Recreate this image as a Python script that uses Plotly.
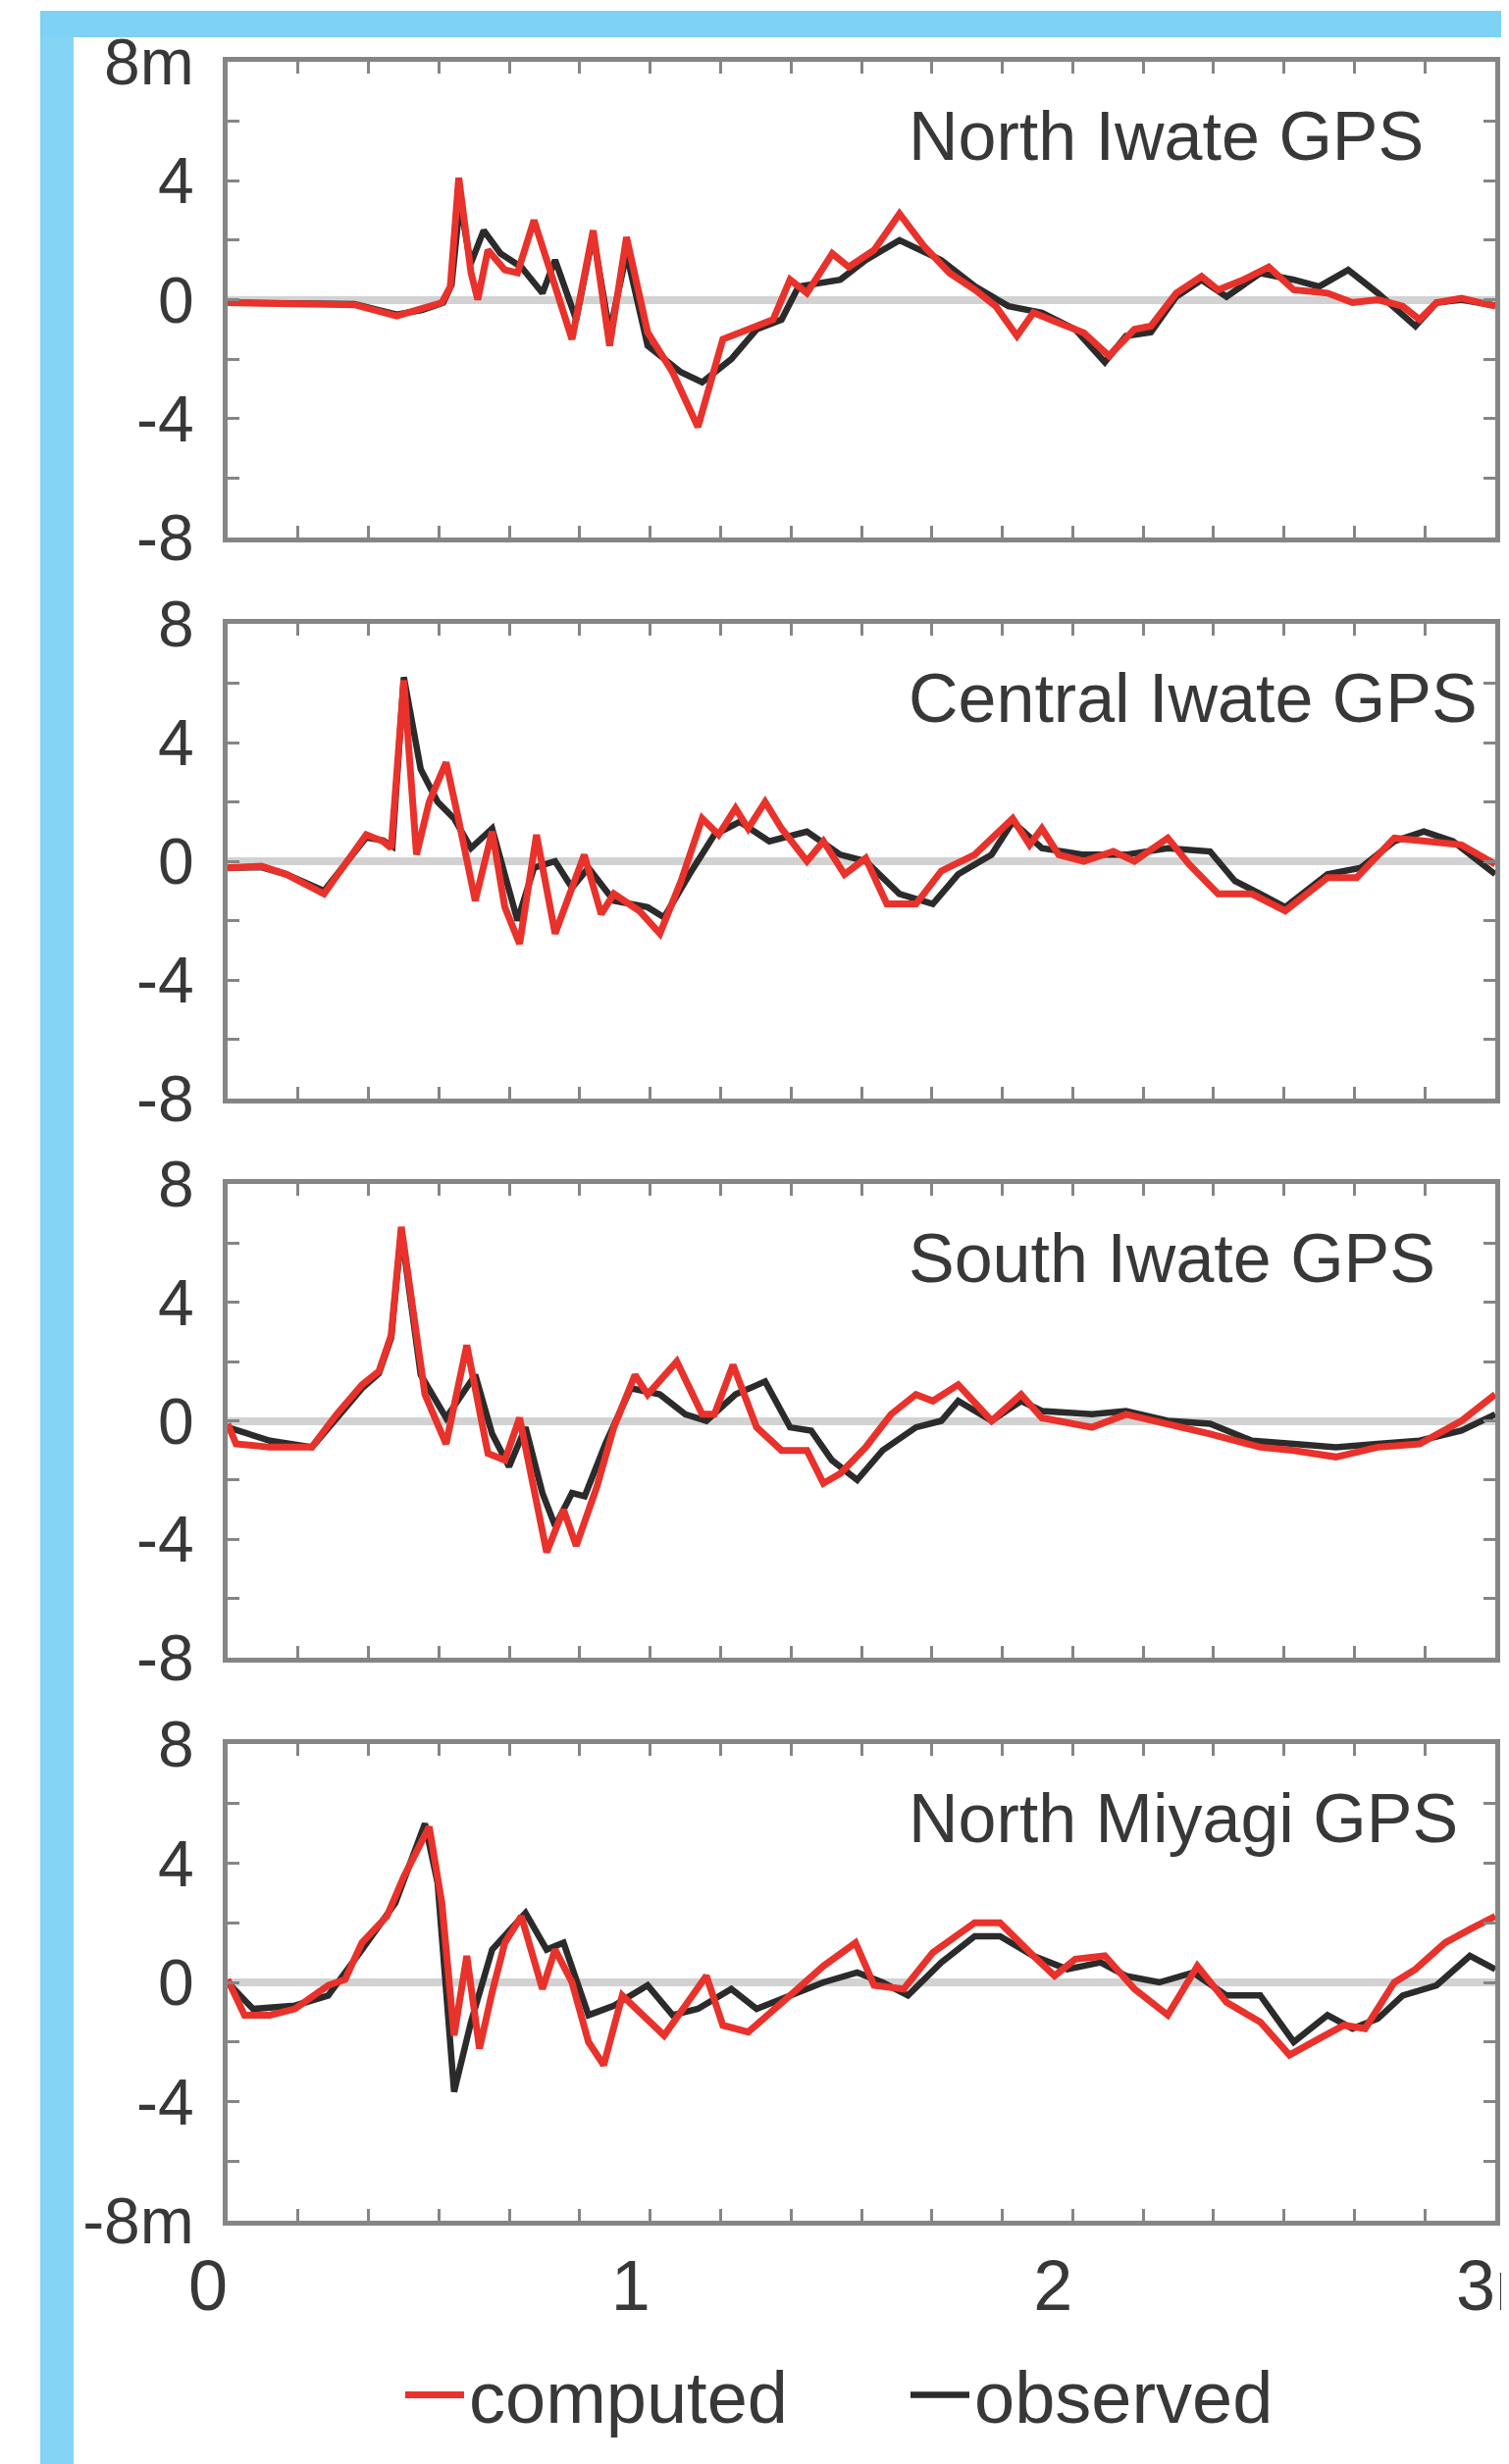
import plotly.graph_objects as go

# ---------------- data (time in minutes, displacement in m) ----------------
panel_titles = ["North Iwate GPS", "Central Iwate GPS", "South Iwate GPS", "North Miyagi GPS"]

north_iwate_computed = [
    (0.0, -0.1), (0.30, -0.17), (0.40, -0.55), (0.457, -0.33), (0.507, -0.1), (0.527, 0.44),
    (0.547, 4.1), (0.576, 0.9), (0.592, 0.0), (0.616, 1.67), (0.656, 1.0), (0.686, 0.9),
    (0.725, 2.67), (0.765, 0.9), (0.815, -1.33), (0.865, 2.33), (0.904, -1.55), (0.944, 2.1),
    (0.994, -1.1), (1.053, -2.44), (1.113, -4.28), (1.172, -1.33), (1.232, -1.0), (1.291, -0.67),
    (1.331, 0.67), (1.371, 0.22), (1.431, 1.55), (1.47, 1.1), (1.53, 1.67), (1.59, 2.89),
    (1.649, 1.78), (1.709, 0.89), (1.769, 0.33), (1.818, -0.22), (1.868, -1.22), (1.907, -0.44),
    (1.967, -0.78), (2.026, -1.11), (2.086, -1.89), (2.146, -1.0), (2.185, -0.89), (2.245, 0.22),
    (2.305, 0.78), (2.344, 0.33), (2.404, 0.67), (2.464, 1.1), (2.523, 0.33), (2.603, 0.22),
    (2.662, -0.1), (2.722, 0.0), (2.781, -0.22), (2.821, -0.67), (2.861, -0.1), (2.92, 0.05),
    (3.0, -0.22),
]
north_iwate_observed = [
    (0.0, -0.1), (0.30, -0.15), (0.40, -0.5), (0.46, -0.35), (0.51, -0.1), (0.53, 0.5),
    (0.55, 3.3), (0.575, 1.2), (0.606, 2.33), (0.646, 1.55), (0.695, 1.1), (0.745, 0.22),
    (0.775, 1.33), (0.825, -0.67), (0.865, 2.2), (0.904, -1.1), (0.944, 1.55), (0.994, -1.55),
    (1.073, -2.44), (1.123, -2.78), (1.192, -2.0), (1.252, -1.0), (1.311, -0.67), (1.351, 0.44),
    (1.45, 0.67), (1.51, 1.33), (1.59, 2.0), (1.689, 1.33), (1.769, 0.44), (1.848, -0.22),
    (1.927, -0.44), (2.006, -1.0), (2.076, -2.1), (2.126, -1.22), (2.185, -1.1), (2.245, 0.1),
    (2.305, 0.67), (2.364, 0.1), (2.444, 0.89), (2.523, 0.67), (2.583, 0.44), (2.652, 1.0),
    (2.722, 0.22), (2.811, -0.89), (2.861, -0.1), (2.92, 0.0), (3.0, -0.2),
]

central_iwate_computed = [
    (0.0, -0.22), (0.08, -0.17), (0.139, -0.44), (0.228, -1.1), (0.278, -0.1), (0.328, 0.89),
    (0.368, 0.67), (0.387, 0.44), (0.417, 6.1), (0.447, 0.22), (0.477, 2.0), (0.517, 3.33),
    (0.546, 1.44), (0.586, -1.33), (0.626, 1.0), (0.656, -1.55), (0.691, -2.78), (0.731, 0.89),
    (0.775, -2.44), (0.844, 0.22), (0.884, -1.78), (0.914, -1.1), (0.974, -1.67), (1.023, -2.44),
    (1.073, -0.67), (1.123, 1.44), (1.162, 0.89), (1.202, 1.78), (1.232, 1.1), (1.272, 2.0),
    (1.311, 1.1), (1.371, 0.0), (1.41, 0.67), (1.46, -0.44), (1.51, 0.1), (1.56, -1.44),
    (1.629, -1.44), (1.689, -0.33), (1.768, 0.22), (1.858, 1.44), (1.898, 0.55), (1.927, 1.1),
    (1.967, 0.22), (2.026, 0.0), (2.096, 0.33), (2.146, 0.0), (2.225, 0.78), (2.275, -0.1),
    (2.344, -1.1), (2.424, -1.1), (2.503, -1.67), (2.603, -0.55), (2.672, -0.55), (2.761, 0.78),
    (2.84, 0.67), (2.92, 0.55), (3.0, -0.1),
]
central_iwate_observed = [
    (0.0, -0.22), (0.08, -0.2), (0.139, -0.44), (0.228, -1.0), (0.278, -0.1), (0.328, 0.8),
    (0.368, 0.7), (0.39, 0.5), (0.417, 6.2), (0.457, 3.1), (0.497, 2.0), (0.536, 1.44),
    (0.576, 0.44), (0.626, 1.1), (0.686, -2.0), (0.725, -0.22), (0.775, 0.0), (0.815, -0.89),
    (0.854, -0.22), (0.914, -1.33), (0.994, -1.55), (1.033, -1.89), (1.093, -0.44), (1.152, 0.89),
    (1.212, 1.33), (1.282, 0.67), (1.371, 1.0), (1.45, 0.22), (1.51, 0.0), (1.59, -1.1),
    (1.669, -1.44), (1.729, -0.44), (1.808, 0.22), (1.858, 1.33), (1.927, 0.44), (2.026, 0.22),
    (2.126, 0.22), (2.225, 0.44), (2.325, 0.33), (2.384, -0.67), (2.444, -1.1), (2.503, -1.55),
    (2.603, -0.44), (2.682, -0.22), (2.761, 0.67), (2.831, 1.0), (2.9, 0.67), (3.0, -0.44),
]

south_iwate_computed = [
    (0.0, -0.1), (0.02, -0.78), (0.1, -0.89), (0.199, -0.89), (0.258, 0.22), (0.318, 1.22),
    (0.358, 1.67), (0.387, 2.89), (0.411, 6.55), (0.437, 4.0), (0.467, 0.89), (0.517, -0.78),
    (0.566, 2.55), (0.616, -1.1), (0.656, -1.33), (0.691, 0.1), (0.725, -2.44), (0.755, -4.44),
    (0.795, -3.0), (0.825, -4.22), (0.874, -2.22), (0.914, -0.22), (0.964, 1.55), (0.994, 0.89),
    (1.063, 2.0), (1.123, 0.22), (1.152, 0.22), (1.196, 1.89), (1.252, -0.22), (1.311, -1.0),
    (1.371, -1.0), (1.41, -2.11), (1.45, -1.78), (1.51, -0.89), (1.57, 0.22), (1.629, 0.89),
    (1.669, 0.67), (1.729, 1.22), (1.808, 0.0), (1.878, 0.89), (1.927, 0.1), (2.046, -0.22),
    (2.126, 0.22), (2.225, -0.1), (2.325, -0.44), (2.444, -0.89), (2.523, -1.0), (2.623, -1.22),
    (2.722, -0.89), (2.821, -0.78), (2.92, 0.0), (3.0, 0.89),
]
south_iwate_observed = [
    (0.0, -0.22), (0.1, -0.67), (0.2, -0.89), (0.258, 0.1), (0.318, 1.1), (0.358, 1.6),
    (0.387, 2.8), (0.411, 6.4), (0.437, 3.6), (0.457, 1.55), (0.517, 0.1), (0.586, 1.55),
    (0.626, -0.44), (0.666, -1.55), (0.705, -0.22), (0.745, -2.44), (0.775, -3.55), (0.815, -2.44),
    (0.845, -2.55), (0.894, -0.78), (0.954, 1.1), (1.023, 0.89), (1.083, 0.22), (1.133, 0.0),
    (1.202, 0.89), (1.272, 1.33), (1.331, -0.22), (1.381, -0.33), (1.43, -1.33), (1.49, -2.0),
    (1.55, -1.0), (1.629, -0.22), (1.689, 0.0), (1.729, 0.67), (1.808, 0.0), (1.878, 0.67),
    (1.927, 0.33), (2.046, 0.22), (2.126, 0.33), (2.225, 0.0), (2.325, -0.1), (2.424, -0.67),
    (2.523, -0.78), (2.623, -0.89), (2.722, -0.78), (2.821, -0.67), (2.92, -0.33), (3.0, 0.22),
]

north_miyagi_computed = [
    (0.0, 0.1), (0.04, -1.1), (0.1, -1.1), (0.159, -0.89), (0.238, -0.1), (0.278, 0.1),
    (0.318, 1.33), (0.377, 2.22), (0.417, 3.55), (0.447, 4.44), (0.477, 5.22), (0.507, 2.67),
    (0.536, -1.78), (0.566, 0.89), (0.596, -2.22), (0.626, -0.33), (0.656, 1.33), (0.695, 2.22),
    (0.725, 0.78), (0.745, -0.22), (0.775, 1.1), (0.815, 0.0), (0.854, -2.0), (0.89, -2.78),
    (0.934, -0.44), (0.984, -1.1), (1.033, -1.78), (1.083, -0.78), (1.133, 0.22), (1.172, -1.44),
    (1.232, -1.67), (1.331, -0.44), (1.41, 0.55), (1.486, 1.33), (1.53, -0.1), (1.6, -0.22),
    (1.669, 1.0), (1.768, 2.0), (1.828, 2.0), (1.907, 0.89), (1.957, 0.22), (2.006, 0.78),
    (2.076, 0.89), (2.146, -0.22), (2.225, -1.1), (2.295, 0.55), (2.364, -0.67), (2.444, -1.33),
    (2.513, -2.44), (2.583, -1.89), (2.642, -1.44), (2.692, -1.55), (2.761, 0.0), (2.811, 0.44),
    (2.881, 1.33), (2.94, 1.78), (3.0, 2.22),
]
north_miyagi_observed = [
    (0.0, 0.0), (0.06, -0.89), (0.159, -0.78), (0.238, -0.44), (0.318, 1.1), (0.397, 2.67),
    (0.467, 5.33), (0.497, 3.33), (0.536, -3.67), (0.576, -1.33), (0.626, 1.1), (0.705, 2.33),
    (0.755, 1.1), (0.795, 1.33), (0.854, -1.1), (0.914, -0.78), (0.994, -0.1), (1.053, -1.1),
    (1.113, -0.89), (1.192, -0.22), (1.252, -0.89), (1.331, -0.44), (1.41, 0.0), (1.49, 0.33),
    (1.55, 0.0), (1.61, -0.44), (1.689, 0.67), (1.768, 1.55), (1.828, 1.55), (1.907, 0.89),
    (1.987, 0.44), (2.066, 0.67), (2.126, 0.22), (2.205, 0.0), (2.285, 0.33), (2.364, -0.44),
    (2.444, -0.44), (2.523, -2.0), (2.603, -1.1), (2.662, -1.55), (2.722, -1.22), (2.781, -0.44),
    (2.861, -0.1), (2.94, 0.89), (3.0, 0.44),
]

computed_series = [north_iwate_computed, central_iwate_computed, south_iwate_computed, north_miyagi_computed]
observed_series = [north_iwate_observed, central_iwate_observed, south_iwate_observed, north_miyagi_observed]

y_tickvals = [-8, -4, 0, 4, 8]
y_ticktext = [
    ["-8", "-4", "0", "4", "8m"],
    ["-8", "-4", "0", "4", "8"],
    ["-8", "-4", "0", "4", "8"],
    ["-8m", "-4", "0", "4", "8"],
]
x_tickvals = [0, 1, 2, 3]
x_ticktext = ["0", "1", "2", "\u00a0\u00a0\u00a03m"]

# ---------------- styling / layout ----------------
W, H = 1538, 2512
RED = "#e8322b"
BLACK = "#2b2b2b"
FRAME = "#858585"
FONT = "Liberation Sans, Arial, Helvetica, sans-serif"
TXT = "#383838"

panel_px = [(55, 540), (628, 1112), (1199, 1682), (1770, 2256)]
x_dom = [224 / W, 1516 / W]

fig = go.Figure()

for i in range(4):
    ax = "" if i == 0 else str(i + 1)
    obs = observed_series[i]
    com = computed_series[i]
    fig.add_trace(go.Scatter(
        x=[p[0] for p in obs], y=[p[1] for p in obs], mode="lines",
        line=dict(color=BLACK, width=6.5), name="observed",
        legendgroup="obs", showlegend=(i == 0), legendrank=2,
        xaxis="x" + ax, yaxis="y" + ax,
    ))
    fig.add_trace(go.Scatter(
        x=[p[0] for p in com], y=[p[1] for p in com], mode="lines",
        line=dict(color=RED, width=7), name="computed",
        legendgroup="com", showlegend=(i == 0), legendrank=1,
        xaxis="x" + ax, yaxis="y" + ax,
    ))

layout = dict(
    width=W, height=H, autosize=False,
    margin=dict(l=0, r=0, t=0, b=0, pad=0, autoexpand=False),
    paper_bgcolor="white", plot_bgcolor="white",
    showlegend=True,
    legend=dict(
        orientation="h", x=400 / W, xanchor="left", y=1 - 2434 / H, yanchor="middle",
        font=dict(family=FONT, size=74, color=TXT),
        bgcolor="rgba(0,0,0,0)", entrywidth=440, entrywidthmode="pixels",
        itemwidth=60,
    ),
    annotations=[],
    shapes=[
        dict(type="rect", xref="paper", yref="paper", x0=33 / W, x1=67 / W, y0=0, y1=1 - 3 / H,
             fillcolor="#84d4f5", line=dict(width=0), layer="below"),
        dict(type="rect", xref="paper", yref="paper", x0=33 / W, x1=1, y0=1 - 30 / H, y1=1 - 3 / H,
             fillcolor="#7ed2f5", line=dict(width=0), layer="below"),
    ],
)

for i, (top, bot) in enumerate(panel_px):
    ax = "" if i == 0 else str(i + 1)
    layout["xaxis" + ax] = dict(
        domain=x_dom, range=[0, 3], anchor="y" + ax,
        showline=True, mirror="ticks", linecolor=FRAME, linewidth=5,
        ticks="inside", ticklen=12, tickwidth=3, tickcolor=FRAME,
        tickvals=x_tickvals, ticktext=x_ticktext,
        minor=dict(dtick=1 / 6, tick0=0, ticks="inside", ticklen=12, tickwidth=3, tickcolor=FRAME, showgrid=False),
        showgrid=False, zeroline=False,
        showticklabels=(i == 3), automargin=False,
        tickfont=dict(family=FONT, size=72, color=TXT),
        ticklabelshift=-20, ticklabelstandoff=0, ticklabeloverflow="allow",
    )
    layout["yaxis" + ax] = dict(
        domain=[1 - bot / H, 1 - top / H], range=[-8, 8], anchor="x" + ax,
        showline=True, mirror="ticks", linecolor=FRAME, linewidth=5,
        ticks="inside", ticklen=12, tickwidth=3, tickcolor=FRAME,
        tickvals=y_tickvals, ticktext=y_ticktext[i],
        minor=dict(dtick=2, tick0=0, ticks="inside", ticklen=12, tickwidth=3, tickcolor=FRAME, showgrid=False),
        showgrid=False, automargin=False,
        zeroline=True, zerolinecolor="#d2d2d2", zerolinewidth=8,
        tickfont=dict(family=FONT, size=66, color=TXT),
        ticklabelstandoff=16, ticklabeloverflow="allow",
    )
    layout["annotations"].append(dict(
        text=panel_titles[i], xref="paper", yref="paper",
        x=916 / W, xanchor="left", y=1 - (top + 76) / H, yanchor="middle",
        showarrow=False, font=dict(family=FONT, size=70, color=TXT),
    ))

fig.update_layout(**layout)
fig.write_html("out.html")
